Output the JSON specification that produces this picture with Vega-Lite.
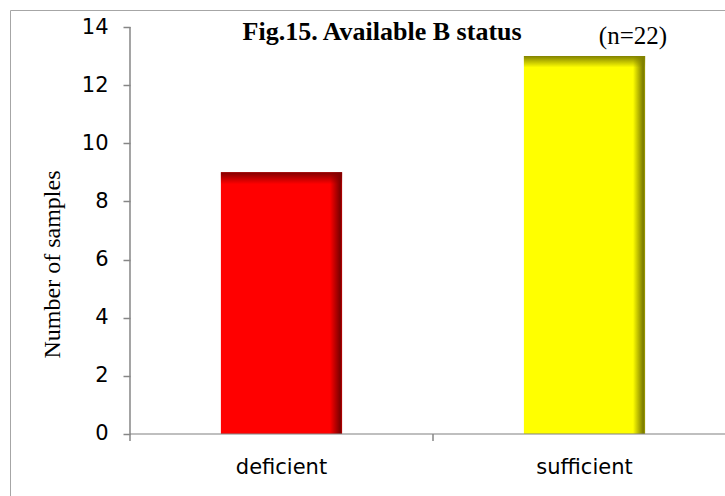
{
  "$schema": "https://vega.github.io/schema/vega-lite/v6.json",
  "autosize": {"type": "none"},
  "width": 846,
  "height": 500,
  "padding": {"left": 10, "top": 10, "right": -131, "bottom": -14},
  "background": "white",
  "config": {
    "view": {"stroke": "#a6a6a6", "strokeWidth": 1}
  },
  "data": {
    "values": [
      {"status": "deficient", "samples": 9},
      {"status": "sufficient", "samples": 13}
    ]
  },
  "layer": [
    {
      "mark": {"type": "bar"},
      "encoding": {
        "x": {
          "field": "status",
          "type": "nominal",
          "sort": null,
          "scale": {"paddingInner": 0.6, "paddingOuter": 0.696},
          "axis": {
            "orient": "bottom",
            "offset": -76,
            "domain": false,
            "grid": false,
            "ticks": false,
            "tickSize": 0,
            "labelAngle": 0,
            "labelFont": "DejaVu Sans",
            "labelFontSize": 21,
            "labelColor": "black",
            "labelPadding": 22,
            "title": null
          }
        },
        "y": {
          "field": "samples",
          "type": "quantitative",
          "scale": {"domain": [-2.6143, 14.5848], "nice": false, "zero": false},
          "axis": {
            "values": [0, 2, 4, 6, 8, 10, 12, 14],
            "offset": -120,
            "domain": false,
            "grid": false,
            "tickSize": 7,
            "tickColor": "#868686",
            "tickWidth": 1.5,
            "labelFont": "DejaVu Sans",
            "labelFontSize": 21,
            "labelColor": "black",
            "labelPadding": 15,
            "title": "Number of samples",
            "titleFont": "Liberation Serif",
            "titleFontSize": 24,
            "titleFontWeight": "normal",
            "titleColor": "black",
            "titleAngle": 270,
            "titleBaseline": "alphabetic",
            "titleX": -71,
            "titleY": 254
          }
        },
        "y2": {"datum": 0},
        "fill": {
          "condition": {
            "test": "datum.status === 'deficient'",
            "value": {
              "gradient": "linear", "x1": 0, "y1": 0, "x2": 1, "y2": 0,
              "stops": [
                {"offset": 0, "color": "#ff0000"},
                {"offset": 0.9, "color": "#ff0000"},
                {"offset": 0.985, "color": "#7a0000"},
                {"offset": 1, "color": "#c00000"}
              ]
            }
          },
          "value": {
            "gradient": "linear", "x1": 0, "y1": 0, "x2": 1, "y2": 0,
            "stops": [
              {"offset": 0, "color": "#ffff00"},
              {"offset": 0.9, "color": "#ffff00"},
              {"offset": 0.985, "color": "#7a7a00"},
              {"offset": 1, "color": "#a0a000"}
            ]
          }
        }
      }
    },
    {
      "mark": {"type": "bar"},
      "encoding": {
        "x": {"field": "status", "type": "nominal", "sort": null},
        "y": {"field": "samples", "type": "quantitative"},
        "y2": {"datum": 0},
        "fill": {
          "condition": {
            "test": "datum.status === 'deficient'",
            "value": {
              "gradient": "linear", "x1": 0, "y1": 0, "x2": 0, "y2": 1,
              "stops": [
                {"offset": 0, "color": "rgba(130,0,0,1)"},
                {"offset": 0.045, "color": "rgba(130,0,0,0)"},
                {"offset": 1, "color": "rgba(130,0,0,0)"}
              ]
            }
          },
          "value": {
            "gradient": "linear", "x1": 0, "y1": 0, "x2": 0, "y2": 1,
            "stops": [
              {"offset": 0, "color": "rgba(130,130,0,1)"},
              {"offset": 0.03, "color": "rgba(130,130,0,0)"},
              {"offset": 1, "color": "rgba(130,130,0,0)"}
            ]
          }
        }
      }
    },
    {
      "transform": [{"filter": "datum.status === 'deficient'"}],
      "mark": {"type": "rule", "color": "#868686", "strokeWidth": 1.5},
      "encoding": {
        "x": {"field": "status", "type": "nominal", "sort": null, "bandPosition": -0.75},
        "y": {"datum": 0, "type": "quantitative"},
        "y2": {"datum": 14}
      }
    },
    {
      "mark": {"type": "rule", "color": "#868686", "strokeWidth": 1.5},
      "encoding": {
        "x": {"field": "status", "type": "nominal", "sort": null, "bandPosition": -0.75},
        "y": {"datum": 0, "type": "quantitative"},
        "y2": {"datum": -0.24}
      }
    },
    {
      "mark": {"type": "tick", "orient": "horizontal", "color": "#868686", "size": 303, "thickness": 1.5},
      "encoding": {
        "x": {"field": "status", "type": "nominal", "sort": null},
        "y": {"datum": 0, "type": "quantitative"}
      }
    },
    {
      "transform": [{"filter": "datum.status === 'deficient'"}],
      "mark": {
        "type": "text",
        "font": "Liberation Serif",
        "fontSize": 26,
        "fontWeight": "bold",
        "align": "center",
        "baseline": "alphabetic",
        "color": "black"
      },
      "encoding": {
        "x": {"field": "status", "type": "nominal", "sort": null, "bandPosition": 1.33},
        "y": {"datum": 13.55, "type": "quantitative"},
        "text": {"value": "Fig.15. Available B status"}
      }
    },
    {
      "transform": [
        {"joinaggregate": [{"op": "sum", "field": "samples", "as": "total"}]},
        {"filter": "datum.status === 'sufficient'"},
        {"calculate": "'(n=' + datum.total + ')'", "as": "label"}
      ],
      "mark": {
        "type": "text",
        "font": "Liberation Serif",
        "fontSize": 25,
        "align": "center",
        "baseline": "alphabetic",
        "color": "black"
      },
      "encoding": {
        "x": {"field": "status", "type": "nominal", "sort": null, "bandPosition": 0.9},
        "y": {"datum": 13.41, "type": "quantitative"},
        "text": {"field": "label", "type": "nominal"}
      }
    }
  ]
}
